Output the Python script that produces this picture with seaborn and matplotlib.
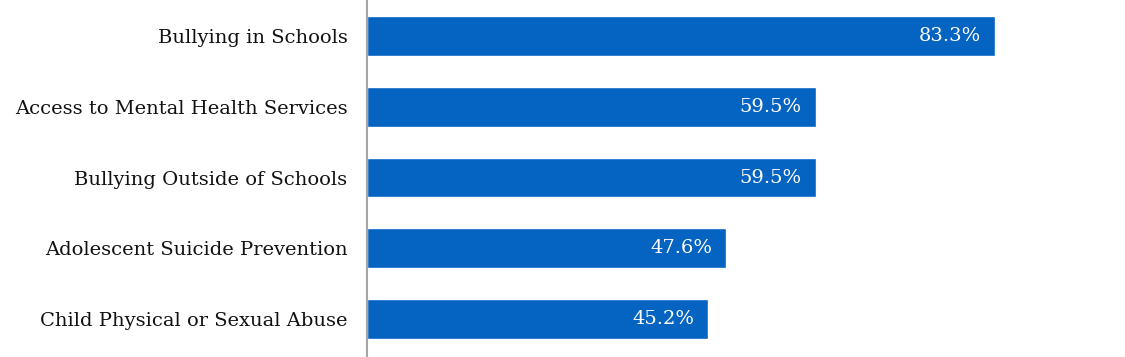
import matplotlib
matplotlib.use("Agg")
import matplotlib.pyplot as plt
import seaborn as sns
import pandas as pd

# Chart data
topics = ["Bullying in Schools", "Access to Mental Health Services",
          "Bullying Outside of Schools", "Adolescent Suicide Prevention",
          "Child Physical or Sexual Abuse"]
percent = [83.3, 59.5, 59.5, 47.6, 45.2]

df = pd.DataFrame({"topic": topics, "percent": percent})

sns.set_style("white")
plt.rcParams["font.family"] = ["DejaVu Serif"]

fig = plt.figure(figsize=(11.25, 3.57), dpi=100)
ax = fig.add_axes([0.3262, 0.0, 0.6704, 1.0])

sns.barplot(data=df, x="percent", y="topic", color="#0563C1", saturation=1,
            width=0.565, ax=ax)

# Value labels inside the bar ends
for i, v in enumerate(df["percent"]):
    ax.annotate(f"{v:.1f}%", xy=(v, i), xytext=(-10, 0), textcoords="offset points",
                ha="right", va="center", color="white", fontsize=14)

ax.set_xlim(0, 100)
ax.set_ylim(4.537, -0.509)
ax.set_xlabel("")
ax.set_ylabel("")
ax.set_xticks([])
ax.tick_params(axis="y", length=0, pad=14, labelsize=14, labelcolor="#111111")
for s in ["top", "right", "bottom"]:
    ax.spines[s].set_visible(False)
ax.spines["left"].set_color("#A6A6A6")
ax.spines["left"].set_linewidth(1.5)

fig.savefig("out.png", dpi=100)
